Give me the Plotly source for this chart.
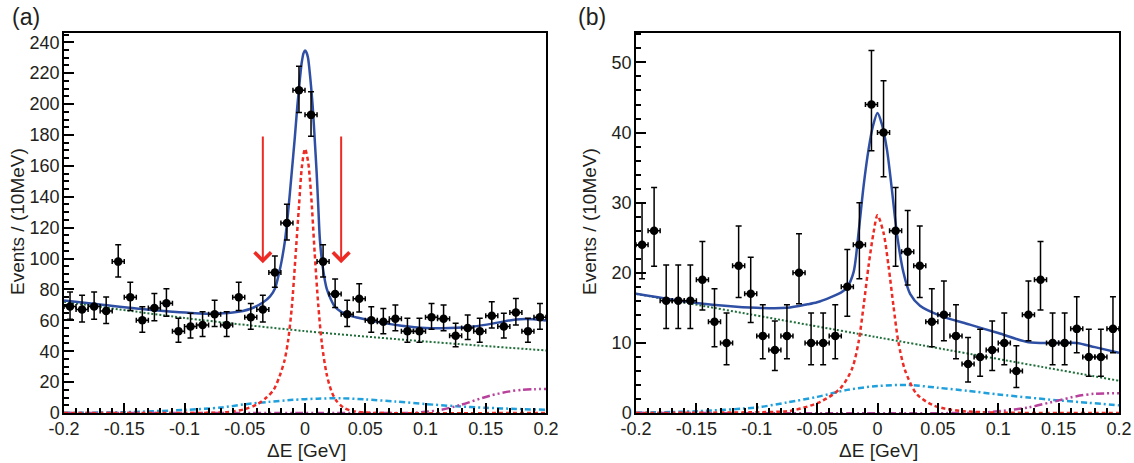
import plotly.graph_objects as go

# 10 MeV bins
bin_centers = [-0.195, -0.185, -0.175, -0.165, -0.155, -0.145, -0.135, -0.125, -0.115, -0.105,
               -0.095, -0.085, -0.075, -0.065, -0.055, -0.045, -0.035, -0.025, -0.015, -0.005,
               0.005, 0.015, 0.025, 0.035, 0.045, 0.055, 0.065, 0.075, 0.085, 0.095,
               0.105, 0.115, 0.125, 0.135, 0.145, 0.155, 0.165, 0.175, 0.185, 0.195]

counts_a = [69, 67, 69, 66, 98, 75, 60, 68, 71, 53,
            56, 57, 64, 57, 75, 62, 67, 91, 123, 209,
            193, 98, 77, 64, 74, 60, 59, 61, 53, 53,
            62, 61, 50, 55, 53, 63, 56, 65, 53, 62]

counts_b = [24, 26, 16, 16, 16, 19, 13, 10, 21, 17,
            11, 9, 11, 20, 10, 10, 11, 18, 24, 44,
            40, 26, 23, 21, 13, 14, 11, 7, 8, 9,
            10, 6, 14, 19, 10, 10, 12, 8, 8, 12]

# fit curves, panel (a)
total_x_a = [-0.2, -0.17, -0.14, -0.11, -0.08, -0.06, -0.045, -0.035, -0.029, -0.025, -0.022,
             -0.0195, -0.0166, -0.014, -0.0111, -0.0085, -0.0064, -0.0045, -0.0028, -0.0012, 0,
             0.0012, 0.0025, 0.0045, 0.0064, 0.008, 0.0097, 0.0111, 0.0124, 0.015, 0.018,
             0.0215, 0.025, 0.03, 0.037, 0.045, 0.06, 0.08, 0.1, 0.12, 0.14, 0.16, 0.175, 0.19, 0.2]
total_y_a = [72.8, 70.2, 67.6, 65.6, 64.3, 65.0, 67.5, 71.5, 75.5, 80.5, 89,
             98, 111.8, 130, 155, 178, 198.3, 214, 226.4, 233, 234.6,
             233.5, 230, 216, 198.3, 178, 155, 132, 111.8, 93, 80.5,
             73.5, 68.6, 65.5, 63, 61.5, 59, 56.5, 55, 55, 56, 58.5, 60.6, 60.7, 59.8]

sig_x_a = [-0.2, -0.07, -0.06, -0.05, -0.04, -0.032, -0.026, -0.021, -0.017, -0.014, -0.011,
           -0.008, -0.005, -0.0025, 0, 0.0025, 0.005, 0.008, 0.011, 0.014, 0.018, 0.022,
           0.026, 0.032, 0.04, 0.05, 0.06, 0.2]
sig_y_a = [0, 0.3, 1.0, 2.5, 5.5, 10, 15, 24, 34, 47, 68,
           100, 134, 160, 171, 163, 142, 104, 70, 45, 25, 14,
           8, 3.5, 1.2, 0.3, 0, 0]

bkg_x_a = [-0.2, -0.1, 0, 0.1, 0.2]
bkg_y_a = [72, 61.5, 53, 46.3, 40.5]

peak_x_a = [-0.2, -0.15, -0.1, -0.07, -0.05, -0.03, -0.01, 0.01, 0.03, 0.05, 0.075, 0.1,
            0.125, 0.15, 0.175, 0.2]
peak_y_a = [0.1, 0.5, 2, 3.5, 5.6, 7.2, 8.5, 9.3, 9.5, 8.8, 7.4, 5.8, 4.4, 3.4, 2.6, 2.1]

rise_x_a = [-0.2, 0.08, 0.09, 0.1, 0.112, 0.129, 0.1535, 0.17, 0.18, 0.19, 0.2]
rise_y_a = [0, 0, 0.1, 0.8, 1.9, 5.2, 11.2, 14, 15, 15.4, 15.5]

# fit curves, panel (b)
total_x_b = [-0.2, -0.15, -0.1, -0.075, -0.058, -0.05, -0.039, -0.03, -0.0253, -0.0198, -0.0157,
             -0.0115, -0.0074, -0.0038, 0, 0.0036, 0.0078, 0.0119, 0.016, 0.0214, 0.027,
             0.0352, 0.0517, 0.0765, 0.1, 0.125, 0.15, 0.165, 0.18, 0.2]
total_y_b = [17.0, 15.7, 15.0, 15.0, 15.5, 15.8, 16.5, 17.2, 17.9, 20.1, 25.7,
             32.4, 37.6, 40.9, 42.8, 41.2, 37.6, 31.9, 25.7, 20.1, 17.0,
             15.3, 13.9, 12.6, 11.4, 10.1, 10.0, 10.0, 9.4, 8.6]

sig_x_b = [-0.2, -0.08, -0.069, -0.0473, -0.0308, -0.0211, -0.0157, -0.0115, -0.0074, -0.0033, 0,
           0.005, 0.0091, 0.0132, 0.0173, 0.0228, 0.0325, 0.0462, 0.0682, 0.2]
sig_y_b = [0, 0.2, 0.4, 1.6, 3.5, 6.3, 10.1, 15.3, 21, 25.7, 28.2,
           25.7, 21, 15.3, 10.1, 6.1, 2.7, 1.1, 0.3, 0]

bkg_x_b = [-0.2, 0, 0.2]
bkg_y_b = [17.0, 10.8, 4.6]

peak_x_b = [-0.2, -0.15, -0.1, -0.075, -0.05, -0.025, 0, 0.025, 0.05, 0.075, 0.1, 0.125,
            0.15, 0.175, 0.2]
peak_y_b = [0.05, 0.25, 0.8, 1.5, 2.3, 3.3, 3.85, 4.0, 3.6, 3.15, 2.65, 2.2, 1.8, 1.45, 1.1]

rise_x_b = [-0.2, 0.07, 0.09, 0.1, 0.125, 0.15, 0.165, 0.18, 0.2]
rise_y_b = [0, 0, 0.1, 0.25, 0.8, 1.8, 2.4, 2.75, 2.8]

# signal window arrows on (a)
arrow_x = [-0.035, 0.03]
arrow_top = 180
arrow_tip = 97

x_tick_vals = [-0.2, -0.15, -0.1, -0.05, 0, 0.05, 0.1, 0.15, 0.2]
x_tick_text = ["-0.2", "-0.15", "-0.1", "-0.05", "0", "0.05", "0.1", "0.15", "0.2"]

FONT = "Liberation Sans, Arial, sans-serif"
W, H = 1134, 463


def poisson_errors(counts):
    lo, hi = [], []
    for n in counts:
        lower = n * (1 - 1 / (9 * n) - 1 / (3 * n ** 0.5)) ** 3
        upper = n + (n + 0.75) ** 0.5 + 1
        lo.append(n - lower)
        hi.append(upper - n)
    return lo, hi


def add_panel(fig, xa, ya, counts, curves):
    for cx, cy, color, width, dash in curves:
        fig.add_trace(go.Scatter(x=cx, y=cy, mode="lines", xaxis=xa, yaxis=ya,
                                 line=dict(color=color, width=width, dash=dash,
                                           shape="spline", smoothing=0.8),
                                 showlegend=False, hoverinfo="skip"))
    lo, hi = poisson_errors(counts)
    fig.add_trace(go.Scatter(x=bin_centers, y=counts, mode="markers", xaxis=xa, yaxis=ya,
                             marker=dict(color="black", size=8.5),
                             error_x=dict(type="constant", value=0.005, color="black",
                                          thickness=1.5, width=2.5),
                             error_y=dict(type="data", symmetric=False, array=hi,
                                          arrayminus=lo, color="black",
                                          thickness=1.5, width=3),
                             showlegend=False))


BLUE = "#2e4fa3"
RED = "#ee2a24"
GREEN = "#1f6e3a"
CYAN = "#1fa0dc"
MAGENTA = "#b8419b"
CYAN_DASH = "6px,3px,2px,3px"
MAG_DASH = "8px,3px,2px,3px,2px,3px"

fig = go.Figure()
add_panel(fig, "x", "y", counts_a, [
    (bkg_x_a, bkg_y_a, GREEN, 2, "2px,2px"),
    (peak_x_a, peak_y_a, CYAN, 2.5, CYAN_DASH),
    (rise_x_a, rise_y_a, MAGENTA, 2.5, MAG_DASH),
    (sig_x_a, sig_y_a, RED, 2.5, "4px,3px"),
    (total_x_a, total_y_a, BLUE, 2.5, "solid"),
])
add_panel(fig, "x2", "y2", counts_b, [
    (bkg_x_b, bkg_y_b, GREEN, 2, "2px,2px"),
    (peak_x_b, peak_y_b, CYAN, 2.5, CYAN_DASH),
    (rise_x_b, rise_y_b, MAGENTA, 2.5, MAG_DASH),
    (sig_x_b, sig_y_b, RED, 2.5, "4px,3px"),
    (total_x_b, total_y_b, BLUE, 2.5, "solid"),
])

tick_font = dict(family=FONT, size=18, color="#231f20")
axis_style = dict(showline=True, mirror=True, linecolor="black", linewidth=1.5,
                  ticks="inside", ticklen=10, tickwidth=1.5, tickcolor="black",
                  showgrid=False, zeroline=False, automargin=False, tickfont=tick_font)


def x_axis(domain, anchor):
    return dict(axis_style, domain=domain, anchor=anchor, range=[-0.2, 0.2],
                tickmode="array", tickvals=x_tick_vals, ticktext=x_tick_text,
                ticklabelstandoff=-1,
                minor=dict(tickmode="linear", tick0=0, dtick=0.01, ticks="inside",
                           ticklen=5, tickwidth=1.5, tickcolor="black"))


def y_axis(domain, anchor, top, major, minor):
    return dict(axis_style, domain=domain, anchor=anchor, range=[0, top], dtick=major,
                ticklabelstandoff=-1,
                minor=dict(dtick=minor, ticks="inside", ticklen=5, tickwidth=1.5,
                           tickcolor="black"))


y_dom = [1 - 413 / H, 1 - 33 / H]
fig.update_layout(
    width=W, height=H, template="none",
    margin=dict(l=0, r=0, t=0, b=0),
    paper_bgcolor="white", plot_bgcolor="white",
    xaxis=x_axis([64 / W, 546 / W], "y"),
    yaxis=y_axis(y_dom, "x", 246, 20, 5),
    xaxis2=x_axis([636 / W, 1119 / W], "y2"),
    yaxis2=y_axis(y_dom, "x2", 54.2, 10, 2),
)

title_font = dict(family=FONT, size=19, color="#231f20")
label_font = dict(family=FONT, size=23, color="#231f20")
notes = [
    dict(text="(a)", x=10 / W, y=1 - 17 / H, xanchor="left", font=label_font),
    dict(text="(b)", x=576 / W, y=1 - 17 / H, xanchor="left", font=label_font),
    dict(text="Events / (10MeV)", x=18 / W, y=1 - 222 / H, textangle=-90, font=title_font),
    dict(text="Events / (10MeV)", x=590 / W, y=1 - 222 / H, textangle=-90, font=title_font),
    dict(text="ΔE [GeV]", x=306 / W, y=1 - 450 / H, font=title_font),
    dict(text="ΔE [GeV]", x=878 / W, y=1 - 450 / H, font=title_font),
]
for n in notes:
    fig.add_annotation(xref="paper", yref="paper", showarrow=False, yanchor="middle",
                       **({"xanchor": "center"} | n))

for ax_ in arrow_x:
    fig.add_annotation(x=ax_, y=arrow_tip, ax=ax_, ay=arrow_top, xref="x", yref="y",
                       axref="x", ayref="y", showarrow=True, arrowhead=4, arrowsize=1.6,
                       arrowwidth=2, arrowcolor=RED, text="")

fig.write_html("out.html", config={"displayModeBar": False},
               post_script="document.body.style.margin='0';")
